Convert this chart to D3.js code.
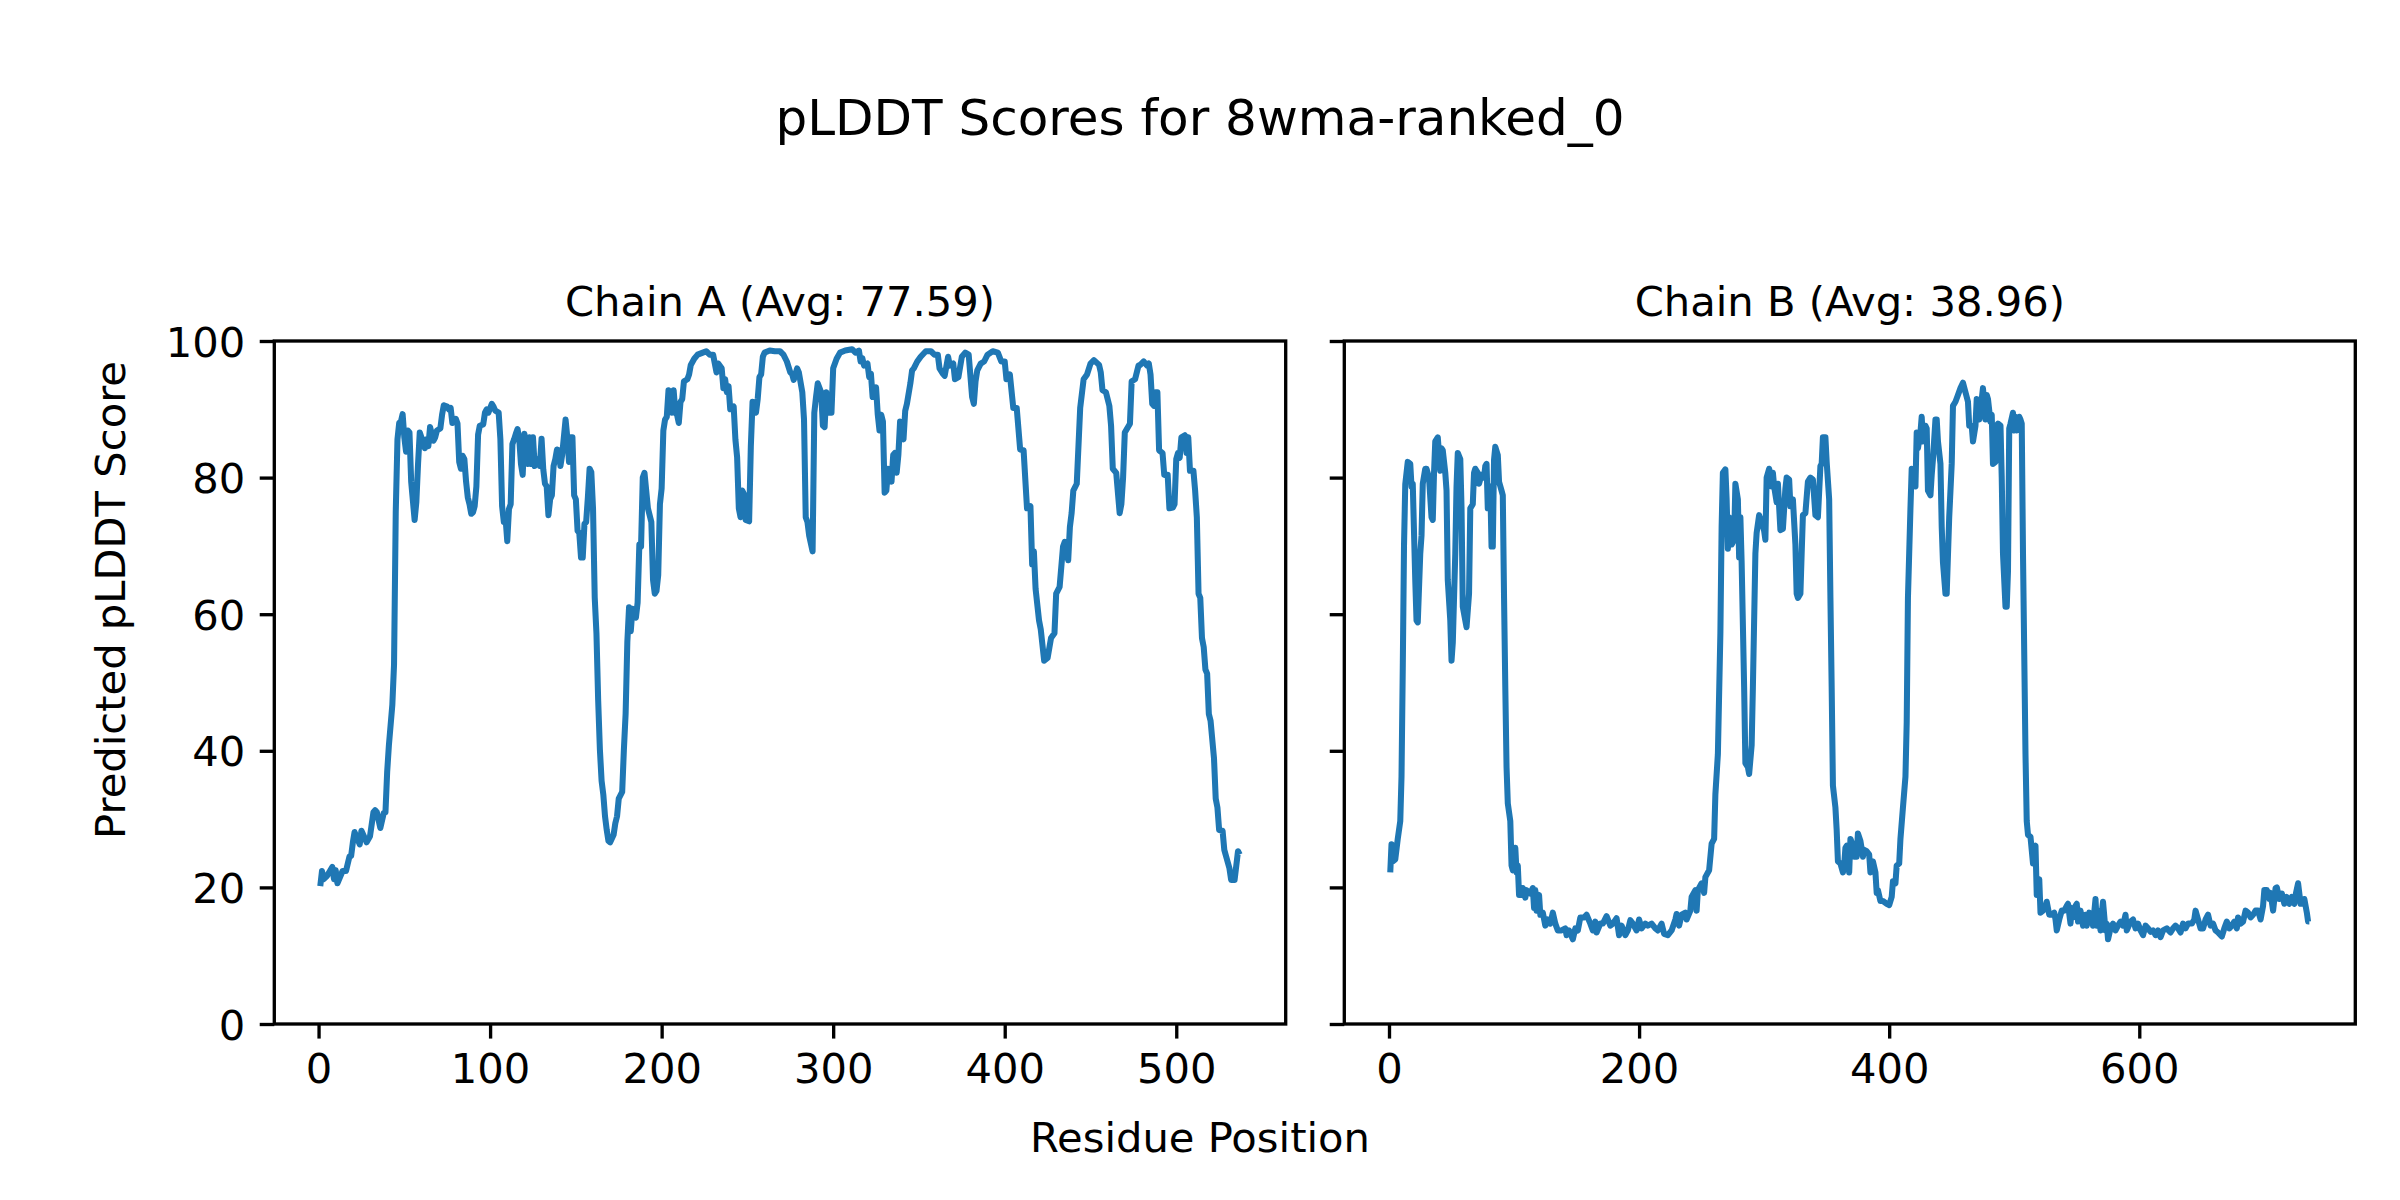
<!DOCTYPE html>
<html>
<head>
<meta charset="utf-8">
<script src="https://cdn.jsdelivr.net/npm/d3@7.9.0/dist/d3.min.js"></script>
<style>
  body { margin: 0; background: #fff; }
  svg text { font-family: "DejaVu Sans", sans-serif; fill: #000; }
</style>
</head>
<body>
<div id="chart"></div>
<script>
// residue positions and pLDDT scores
const chainAResidue = [
  1, 2, 3, 5, 8, 9, 10, 11, 14, 16,
  18, 19, 20, 21, 24, 25, 28, 30, 32, 33,
  34, 36, 38, 39, 40, 41, 43, 44, 45, 46,
  47, 48, 49, 50, 51, 52, 53, 54, 56, 57,
  58, 59, 62, 63, 64, 65, 67, 68, 69, 71,
  72, 73, 75, 76, 77, 78, 80, 81, 82, 83,
  84, 85, 86, 87, 88, 89, 90, 91, 92, 93,
  94, 96, 97, 98, 99, 101, 102, 103, 105, 106,
  107, 108, 109, 110, 111, 112, 113, 114, 115, 116,
  117, 118, 119, 120, 122, 123, 124, 125, 126, 128,
  129, 130, 131, 132, 133, 134, 135, 136, 137, 138,
  139, 140, 141, 142, 144, 145, 146, 147, 148, 149,
  150, 151, 152, 153, 154, 155, 156, 157, 158, 159,
  160, 161, 162, 163, 164, 165, 166, 167, 168, 169,
  170, 172, 173, 174, 175, 177, 178, 179, 180, 181,
  182, 183, 185, 186, 187, 188, 189, 190, 192, 194,
  195, 196, 197, 198, 199, 200, 201, 202, 203, 204,
  205, 206, 207, 208, 209, 210, 211, 212, 213, 215,
  216, 217, 219, 221, 224, 226, 228, 230, 232, 233,
  235, 236, 237, 238, 239, 240, 242, 243, 244, 245,
  246, 247, 248, 249, 251, 252, 253, 255, 256, 257,
  258, 259, 260, 263, 266, 269, 271, 273, 275, 276,
  277, 279, 280, 282, 283, 284, 285, 286, 288, 289,
  290, 291, 293, 294, 295, 296, 297, 299, 300, 302,
  304, 307, 311, 313, 315, 316, 317, 318, 320, 321,
  322, 323, 325, 326, 327, 328, 329, 330, 331, 332,
  334, 335, 336, 337, 338, 339, 341, 342, 343, 345,
  346, 347, 349, 351, 354, 357, 359, 361, 362, 364,
  365, 367, 368, 370, 371, 373, 375, 377, 379, 381,
  382, 383, 384, 386, 388, 390, 393, 396, 398, 400,
  401, 403, 405, 407, 409, 411, 413, 415, 416, 417,
  418, 420, 421, 423, 425, 427, 429, 430, 432, 434,
  435, 437, 438, 439, 440, 442, 444, 446, 448, 450,
  452, 455, 456, 457, 459, 461, 462, 463, 465, 467,
  468, 469, 470, 473, 474, 476, 478, 479, 481, 483,
  484, 485, 486, 487, 488, 489, 490, 492, 493, 495,
  496, 498, 499, 500, 501, 502, 503, 505, 506, 507,
  508, 510, 511, 512, 513, 514, 515, 516, 517, 518,
  519, 520, 522, 523, 524, 525, 527, 528, 529, 531,
  532, 534, 535, 536, 537
];
const chainAScore = [
  20.2, 22.4, 21.2, 21.7, 23.0, 21.2, 22.5, 20.6, 22.4, 22.4,
  24.5, 24.6, 26.6, 28.1, 26.3, 28.3, 26.6, 27.5, 31.0, 31.3,
  31.0, 28.7, 30.9, 31.0, 36.9, 40.8, 46.7, 52.6, 75.0, 85.6,
  88.0, 88.2, 89.3, 85.9, 83.8, 86.9, 86.6, 79.4, 73.8, 76.4,
  82.0, 86.6, 84.3, 85.6, 84.6, 87.4, 85.4, 85.9, 86.9, 87.2,
  89.2, 90.6, 90.4, 90.0, 90.2, 88.0, 88.6, 87.9, 82.3, 81.3,
  83.2, 82.7, 79.4, 77.1, 76.1, 74.7, 74.9, 75.8, 78.7, 86.3,
  87.6, 87.8, 89.5, 90.0, 89.5, 90.8, 90.4, 89.8, 89.5, 85.6,
  75.8, 73.5, 74.1, 70.7, 75.4, 76.1, 84.9, 85.6, 86.4, 87.1,
  85.6, 82.0, 80.4, 86.4, 82.0, 85.9, 82.0, 85.9, 81.7, 82.7,
  81.7, 85.7, 81.2, 79.1, 78.7, 74.5, 76.8, 77.4, 81.7, 82.7,
  84.1, 84.0, 81.7, 83.3, 88.5, 85.9, 82.3, 85.9, 85.9, 77.4,
  76.8, 72.2, 71.9, 68.3, 68.3, 73.2, 73.5, 77.1, 81.3, 80.8,
  75.5, 62.4, 57.2, 47.4, 40.2, 35.6, 33.6, 30.4, 28.4, 26.8,
  26.6, 27.7, 29.4, 30.4, 33.0, 34.0, 40.2, 45.4, 55.9, 61.0,
  57.5, 60.8, 59.5, 61.7, 70.2, 69.9, 80.0, 80.7, 75.5, 73.5,
  65.0, 63.0, 63.4, 65.7, 76.1, 78.4, 86.9, 88.5, 88.9, 92.8,
  92.5, 89.5, 92.8, 89.5, 89.2, 88.0, 91.1, 91.5, 94.1, 94.4,
  95.1, 96.5, 97.4, 98.0, 98.3, 98.5, 98.0, 98.0, 95.4, 96.7,
  96.0, 93.1, 94.4, 92.5, 93.4, 90.0, 90.4, 85.6, 83.0, 75.5,
  74.2, 78.1, 77.6, 73.8, 73.6, 84.6, 91.1, 89.5, 91.5, 94.7,
  95.1, 97.7, 98.3, 98.6, 98.5, 98.5, 98.0, 97.0, 95.4, 95.2,
  94.3, 96.0, 95.4, 92.5, 88.5, 74.2, 73.5, 71.5, 69.2, 89.5,
  91.8, 93.8, 92.5, 87.6, 87.4, 92.5, 89.5, 89.5, 96.0, 97.4,
  98.3, 98.6, 98.8, 98.3, 98.6, 97.0, 97.5, 96.4, 96.7, 94.7,
  95.2, 91.8, 93.2, 89.2, 86.9, 89.2, 88.2, 77.8, 78.1, 81.3,
  79.4, 83.3, 83.6, 80.7, 83.3, 88.2, 85.6, 89.8, 90.8, 93.8,
  95.7, 96.0, 97.0, 97.7, 98.5, 98.5, 98.0, 98.0, 96.0, 95.2,
  94.9, 97.7, 96.4, 96.7, 94.4, 94.7, 97.7, 98.3, 98.0, 91.8,
  90.8, 94.1, 95.7, 96.7, 97.0, 98.0, 98.5, 98.3, 97.0, 97.0,
  94.4, 95.1, 90.2, 90.2, 84.1, 84.0, 75.5, 75.8, 67.3, 69.2,
  63.7, 59.1, 57.8, 53.2, 53.6, 56.5, 57.2, 63.0, 64.0, 69.9,
  70.6, 67.9, 72.8, 74.8, 78.1, 79.1, 90.2, 94.4, 95.1, 96.7,
  97.2, 96.5, 95.4, 92.8, 92.5, 90.5, 87.6, 81.3, 80.7, 74.8,
  76.1, 80.0, 86.6, 87.9, 94.1, 94.4, 96.4, 96.5, 97.0, 96.4,
  96.7, 95.1, 90.8, 90.5, 92.5, 92.5, 84.0, 83.6, 80.4, 80.4,
  75.5, 75.6, 76.1, 82.7, 83.6, 82.9, 85.9, 86.2, 83.6, 85.9,
  81.0, 81.0, 78.1, 74.2, 63.0, 62.4, 56.5, 55.2, 51.9, 51.3,
  45.4, 44.4, 38.9, 33.0, 31.7, 28.4, 28.3, 25.5, 24.6, 22.8,
  21.1, 21.1, 23.2, 25.3, 24.8
];

const chainBResidue = [
  1, 2, 3, 5, 7, 9, 10, 11, 12, 13,
  15, 17, 18, 19, 21, 22, 23, 25, 26, 27,
  29, 30, 32, 34, 35, 36, 37, 39, 41, 42,
  43, 45, 46, 47, 49, 50, 51, 53, 54, 55,
  57, 58, 59, 61, 62, 64, 65, 67, 68, 69,
  71, 72, 74, 76, 77, 78, 79, 81, 82, 83,
  84, 85, 87, 88, 90, 91, 92, 93, 94, 95,
  97, 98, 99, 101, 102, 103, 104, 106, 107, 109,
  110, 113, 115, 116, 117, 118, 120, 121, 123, 125,
  127, 129, 131, 133, 135, 138, 141, 142, 144, 147,
  149, 151, 153, 156, 158, 161, 163, 165, 166, 169,
  171, 174, 177, 179, 182, 184, 186, 189, 191, 193,
  195, 198, 200, 202, 205, 207, 210, 213, 215, 218,
  220, 223, 226, 229, 230, 232, 234, 237, 238, 241,
  242, 245, 246, 247, 250, 252, 253, 256, 258, 260,
  261, 263, 265, 266, 267, 269, 270, 271, 272, 274,
  276, 277, 279, 280, 281, 282, 284, 285, 287, 288,
  290, 291, 293, 294, 296, 298, 300, 301, 302, 304,
  306, 307, 308, 310, 311, 313, 315, 317, 318, 320,
  321, 323, 325, 326, 327, 329, 330, 331, 333, 335,
  337, 339, 341, 343, 345, 346, 347, 349, 350, 352,
  353, 354, 355, 357, 358, 359, 361, 363, 364, 365,
  366, 368, 369, 371, 372, 374, 375, 377, 379, 380,
  382, 384, 385, 387, 389, 390, 391, 393, 395, 398,
  400, 402, 403, 405, 406, 408, 409, 411, 413, 414,
  415, 417, 418, 420, 421, 422, 423, 425, 426, 427,
  429, 430, 431, 433, 434, 435, 437, 438, 439, 441,
  442, 443, 445, 446, 448, 450, 451, 453, 455, 457,
  459, 461, 463, 464, 466, 467, 469, 470, 472, 474,
  475, 477, 478, 479, 481, 482, 483, 485, 486, 487,
  489, 490, 491, 493, 494, 495, 496, 497, 499, 500,
  501, 502, 504, 505, 506, 507, 509, 510, 511, 513,
  515, 516, 517, 518, 520, 521, 523, 525, 526, 528,
  530, 532, 533, 534, 536, 538, 540, 542, 543, 545,
  546, 547, 549, 550, 551, 553, 555, 557, 558, 560,
  562, 563, 565, 566, 567, 569, 570, 571, 573, 574,
  575, 577, 579, 581, 583, 585, 587, 589, 590, 593,
  595, 597, 599, 601, 603, 605, 607, 609, 611, 613,
  615, 617, 619, 622, 625, 627, 629, 631, 633, 635,
  637, 639, 642, 644, 645, 647, 649, 651, 653, 655,
  657, 659, 661, 663, 666, 668, 670, 672, 674, 676,
  678, 679, 681, 683, 685, 687, 689, 691, 693, 695,
  697, 699, 700, 702, 704, 705, 707, 709, 710, 712,
  714, 716, 718, 720, 722, 724, 725, 727, 729, 731,
  732, 734, 735, 736
];
const chainBScore = [
  22.2, 26.3, 23.8, 24.1, 27.1, 29.7, 36.2, 52.0, 70.0, 79.0,
  82.3, 82.0, 78.7, 79.1, 65.0, 59.1, 58.8, 68.9, 71.5, 79.1,
  81.3, 81.3, 80.0, 74.2, 73.8, 80.7, 85.3, 85.9, 81.0, 84.3,
  84.0, 80.7, 78.1, 65.0, 59.1, 53.2, 55.8, 68.9, 78.7, 83.6,
  82.7, 75.5, 61.1, 59.1, 58.1, 63.0, 75.5, 76.1, 80.7, 81.3,
  80.7, 79.1, 80.4, 80.0, 81.7, 82.0, 75.5, 78.7, 69.9, 69.9,
  82.6, 84.5, 83.3, 79.4, 78.1, 77.4, 62.4, 49.3, 37.6, 32.3,
  29.7, 23.2, 22.5, 25.8, 22.2, 23.2, 18.9, 18.9, 19.9, 18.5,
  19.6, 19.1, 19.9, 17.0, 19.6, 16.6, 18.9, 16.0, 16.3, 14.4,
  15.3, 14.7, 16.3, 14.7, 13.7, 13.7, 14.0, 13.0, 13.7, 12.4,
  14.0, 13.7, 15.6, 15.6, 16.0, 14.7, 13.7, 15.0, 13.4, 14.7,
  14.7, 15.8, 14.4, 14.7, 15.5, 13.0, 14.4, 13.0, 13.7, 15.2,
  14.7, 13.7, 15.3, 14.0, 14.7, 14.4, 14.7, 14.0, 13.7, 14.7,
  13.2, 13.0, 13.7, 15.3, 16.1, 14.4, 16.0, 16.3, 15.3, 16.6,
  18.6, 19.6, 16.6, 19.6, 20.6, 19.2, 21.5, 22.5, 26.4, 27.1,
  33.6, 39.5, 57.2, 72.8, 80.7, 81.2, 76.8, 69.6, 74.2, 70.2,
  70.9, 79.1, 76.8, 68.3, 74.2, 67.6, 49.3, 38.2, 37.6, 36.6,
  40.8, 49.3, 68.9, 71.9, 74.5, 73.5, 72.2, 70.9, 80.0, 81.3,
  78.7, 80.7, 78.7, 76.4, 79.1, 72.3, 72.5, 78.4, 80.0, 79.7,
  75.8, 76.8, 70.2, 63.0, 62.4, 63.0, 68.9, 74.5, 74.8, 79.4,
  80.0, 79.7, 74.5, 74.2, 81.7, 82.0, 85.9, 85.9, 82.3, 76.8,
  62.4, 49.3, 34.9, 31.7, 28.4, 23.8, 23.5, 22.2, 23.2, 25.8,
  26.1, 22.2, 27.1, 26.1, 24.5, 24.5, 27.9, 26.8, 24.5, 25.5,
  25.3, 24.8, 22.2, 23.8, 22.2, 19.2, 19.6, 18.0, 18.0, 17.6,
  17.4, 18.6, 20.9, 20.6, 23.2, 23.5, 27.1, 31.7, 36.2, 44.1,
  62.4, 75.5, 81.3, 80.7, 78.7, 86.6, 84.3, 86.6, 88.9, 85.3,
  87.6, 87.2, 78.1, 77.4, 80.4, 82.7, 88.5, 88.5, 85.3, 82.0,
  72.8, 67.6, 63.0, 63.0, 74.2, 82.0, 90.5, 91.1, 92.1, 93.1,
  93.9, 92.5, 91.1, 87.6, 87.6, 85.3, 87.6, 91.5, 88.5, 91.5,
  93.1, 88.5, 92.1, 91.5, 88.2, 89.2, 82.0, 82.3, 87.6, 87.9,
  87.6, 80.0, 68.9, 61.1, 61.1, 66.3, 87.2, 87.9, 89.5, 86.9,
  88.9, 86.9, 88.9, 88.5, 87.9, 68.9, 39.5, 29.7, 27.7, 27.4,
  23.5, 25.8, 26.1, 18.9, 21.2, 16.3, 16.6, 17.3, 17.9, 16.0,
  16.0, 16.3, 15.3, 13.7, 15.3, 16.6, 16.6, 17.3, 17.6, 14.7,
  17.0, 15.6, 17.3, 17.6, 15.0, 16.6, 14.4, 16.0, 14.4, 16.3,
  16.0, 14.4, 18.3, 14.4, 16.6, 13.7, 16.3, 17.9, 13.7, 14.7,
  12.4, 14.0, 14.7, 13.7, 14.4, 15.0, 14.4, 16.0, 13.7, 15.0,
  15.3, 14.0, 14.7, 13.7, 13.0, 14.4, 14.0, 13.5, 13.7, 13.0,
  13.7, 12.7, 13.7, 14.0, 13.4, 14.0, 14.4, 14.0, 13.4, 14.7,
  14.0, 14.7, 14.7, 15.3, 16.6, 15.3, 14.0, 14.0, 15.3, 16.0,
  14.4, 14.7, 13.7, 13.4, 12.8, 14.0, 15.0, 14.0, 14.4, 15.0,
  14.0, 15.6, 14.7, 15.0, 16.6, 16.3, 15.6, 16.0, 16.6, 16.6,
  15.3, 17.3, 19.6, 19.6, 18.3, 19.2, 16.6, 19.9, 20.0, 18.3,
  19.1, 17.6, 18.6, 17.6, 18.6, 17.6, 18.9, 20.6, 17.6, 17.6,
  18.3, 16.3, 15.0, 15.0
];

const chainTitles = ["Chain A (Avg: 77.59)", "Chain B (Avg: 38.96)"];
const xTicksA = [0, 100, 200, 300, 400, 500];
const xTicksB = [0, 200, 400, 600];
const yTicks = [0, 20, 40, 60, 80, 100];
const figTitle = "pLDDT Scores for 8wma-ranked_0";
const xLabel = "Residue Position";
const yLabel = "Predicted pLDDT Score";

// figure is 8x4 in at 300 dpi, so 1pt = 300/72 px
const width = 2400;
const height = 1200;
const pt = 300 / 72;
const tickFont = 10 * pt;
const lineColor = "#1f77b4";

const plotTop = 341;
const plotBottom = 1024;

const panels = [
  { residue: chainAResidue, score: chainAScore, title: chainTitles[0], ticks: xTicksA, left: 274.3, right: 1285.7, labels: true },
  { residue: chainBResidue, score: chainBScore, title: chainTitles[1], ticks: xTicksB, left: 1344.3, right: 2355.3, labels: false },
];

const svg = d3
  .select("#chart")
  .append("svg")
  .attr("width", width)
  .attr("height", height)
  .attr("viewBox", `0 0 ${width} ${height}`);

svg.append("rect").attr("width", width).attr("height", height).attr("fill", "#fff");

const yScale = d3.scaleLinear().domain([0, 100]).range([plotBottom, plotTop]);

panels.forEach((p) => {
  // matplotlib default 5% margin on x
  const [lo, hi] = d3.extent(p.residue);
  const pad = (hi - lo) * 0.05;
  const xScale = d3.scaleLinear().domain([lo - pad, hi + pad]).range([p.left, p.right]);

  const g = svg.append("g");

  const line = d3
    .line()
    .x((d) => xScale(d[0]))
    .y((d) => yScale(d[1]));

  g.append("path")
    .datum(d3.zip(p.residue, p.score))
    .attr("fill", "none")
    .attr("stroke", lineColor)
    .attr("stroke-width", 1.45 * pt)
    .attr("stroke-linejoin", "round")
    .attr("d", line);

  // x axis
  const xAxis = g
    .append("g")
    .attr("transform", `translate(0, ${plotBottom})`)
    .call(d3.axisBottom(xScale).tickValues(p.ticks).tickSize(3.5 * pt).tickPadding(3.5 * pt));

  // y axis (labels only on the first panel, shared y)
  const yAxis = g
    .append("g")
    .attr("transform", `translate(${p.left}, 0)`)
    .call(
      d3.axisLeft(yScale)
        .tickValues(yTicks)
        .tickSize(3.5 * pt)
        .tickPadding(3.5 * pt)
        .tickFormat(p.labels ? d3.format("d") : () => "")
    );

  [xAxis, yAxis].forEach((ax) => {
    ax.select(".domain").remove();
    ax.selectAll(".tick line").attr("stroke", "#000").attr("stroke-width", 0.8 * pt);
    ax.selectAll(".tick text")
      .attr("fill", "#000")
      .style("font-size", `${tickFont}px`)
      .style("font-family", '"DejaVu Sans", sans-serif');
  });
  yAxis.selectAll(".tick text").attr("dy", "0.36em");

  // spines
  g.append("rect")
    .attr("x", p.left)
    .attr("y", plotTop)
    .attr("width", p.right - p.left)
    .attr("height", plotBottom - plotTop)
    .attr("fill", "none")
    .attr("stroke", "#000")
    .attr("stroke-width", 0.8 * pt);

  // panel title
  g.append("text")
    .attr("x", (p.left + p.right) / 2)
    .attr("y", plotTop - 6 * pt)
    .attr("text-anchor", "middle")
    .style("font-size", `${tickFont}px`)
    .text(p.title);
});

svg.append("text")
  .attr("x", width / 2)
  .attr("y", 135)
  .attr("text-anchor", "middle")
  .style("font-size", `${12 * pt}px`)
  .text(figTitle);

svg.append("text")
  .attr("x", width / 2)
  .attr("y", 1152)
  .attr("text-anchor", "middle")
  .style("font-size", `${tickFont}px`)
  .text(xLabel);

// shared y label, centred on the figure like fig.supylabel
svg.append("text")
  .attr("transform", `translate(125, ${height / 2}) rotate(-90)`)
  .attr("text-anchor", "middle")
  .style("font-size", `${tickFont}px`)
  .text(yLabel);
</script>
</body>
</html>
